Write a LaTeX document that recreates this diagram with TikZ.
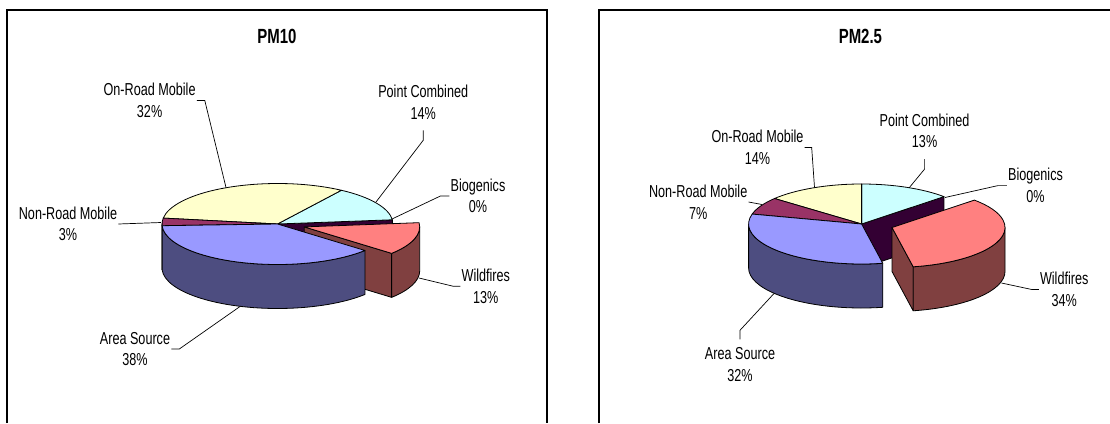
\documentclass[tikz,border=0pt]{standalone}
\usepackage{fontspec}
\setmainfont{Liberation Sans}[FakeStretch=0.73]
\usepackage{xcolor}
\usetikzlibrary{calc}

\definecolor{areatop}{HTML}{9999FF}
\definecolor{areaside}{HTML}{4D4D80}
\definecolor{nonroadtop}{HTML}{993366}
\definecolor{nonroadside}{HTML}{4D1A33}
\definecolor{onroadtop}{HTML}{FFFFCC}
\definecolor{pointtop}{HTML}{CCFFFF}
\definecolor{biogenic}{HTML}{330033}
\definecolor{firetop}{HTML}{FF8080}
\definecolor{fireside}{HTML}{804040}

\begin{document}
\begin{tikzpicture}[x=1pt,y=1pt,
    face/.style={fill=#1, draw=black, line width=0.8pt, line join=round},
    leader/.style={draw=black, line width=0.7pt},
    lbl/.style={font=\fontsize{17.3}{21.6}\selectfont, align=center, inner sep=1pt},
    ttl/.style={font=\bfseries\fontsize{20.5}{24}\selectfont, inner sep=1pt},
    frame/.style={draw=black, line width=1.2pt}]

    % Page and chart frames
    \fill[white] (0,0) rectangle (1110,-423);
    \useasboundingbox (0,0) rectangle (1110,-423);
    \draw[frame] (7,-423) -- (7,-10) -- (547,-10) -- (547,-423);
    \draw[frame] (599,-423) -- (599,-10) -- (1110,-10);

    % ---------------- PM10 ----------------
    \node[ttl] (t10) at (277,-36.7) {PM10};
    \begin{scope}[shift={(277.5,-224)}]
        \def\rx{115.5}\def\ry{40.5}\def\dep{44}
        % face left open by the pulled-out slice
        \path[face=biogenic] (0,0) -- (6:{\rx} and {\ry}) -- ++(0,-\dep) -- (0,-\dep) -- cycle;
        % pulled-out slice: Wildfires
        \begin{scope}[shift={(26.7,-2.9)}]
            \path[face=fireside] (0,0) -- (319.2:{\rx} and {\ry}) -- ++(0,-\dep) -- (0,-\dep) -- cycle;
            \path[face=fireside] (319.2:{\rx} and {\ry}) arc[start angle=319.2, end angle=360, x radius=\rx, y radius=\ry]
                -- ++(0,-\dep) arc[start angle=360, end angle=319.2, x radius=\rx, y radius=\ry] -- cycle;
            \path[face=firetop] (0,0) -- (319.2:{\rx} and {\ry}) arc[start angle=319.2, end angle=366, x radius=\rx, y radius=\ry] -- cycle;
        \end{scope}
        % front sides
        \foreach \col/\a/\b in {nonroadside/180/182.4, areaside/182.4/319.2} {
            \path[face=\col] (\a:{\rx} and {\ry}) arc[start angle=\a, end angle=\b, x radius=\rx, y radius=\ry]
                -- ++(0,-\dep) arc[start angle=\b, end angle=\a, x radius=\rx, y radius=\ry] -- cycle;
        }
        % top faces
        \foreach \col/\a/\b in {pointtop/6/56.4, onroadtop/56.4/171.6, nonroadtop/171.6/182.4, areatop/182.4/319.2} {
            \path[face=\col] (0,0) -- (\a:{\rx} and {\ry}) arc[start angle=\a, end angle=\b, x radius=\rx, y radius=\ry] -- cycle;
        }
    \end{scope}

    % labels and leaders
    \node[lbl] (onr10) at (149.6,-100.5) {On-Road Mobile\\32\%};
    \node[lbl] (pc10) at (423.2,-102) {Point Combined\\14\%};
    \node[lbl] (bio10) at (478,-196) {Biogenics\\0\%};
    \node[lbl] (nr10) at (68,-224) {Non-Road Mobile\\3\%};
    \node[lbl] (wf10) at (485.8,-286.3) {Wildfires\\13\%};
    \node[lbl] (as10) at (135,-349) {Area Source\\38\%};
    \coordinate (onr10tip) at (226,-187.5);
    \coordinate (pc10tip) at (376,-202);
    \coordinate (bio10tip) at (392,-219);
    \coordinate (nr10tip) at (161,-222.5);
    \coordinate (wf10tip) at (419,-278);
    \coordinate (as10tip) at (240,-306.5);
    \draw[leader] (onr10.east) -- ++(8,0) -- (onr10tip);
    \draw[leader] ([yshift=-10pt]pc10.south) -- ++(0,-10) -- (pc10tip);
    \draw[leader] (bio10.west) -- ++(-9,0) -- (bio10tip);
    \draw[leader] (nr10.east) -- (nr10tip);
    \draw[leader] (wf10.west) -- ++(-7,0) -- (wf10tip);
    \draw[leader] (as10.east) -- ++(8,0) -- (as10tip);

    % ---------------- PM2.5 ----------------
    \node[ttl] (t25) at (860.4,-36.7) {PM2.5};
    \begin{scope}[shift={(861.6,-224)}]
        \def\rx{113}\def\ry{40}\def\dep{44}
        % face left open by the pulled-out slice
        \path[face=biogenic] (0,0) -- (43.2:{\rx} and {\ry}) -- ++(0,-\dep) -- (0,-\dep) -- cycle;
        % pulled-out slice: Wildfires
        \begin{scope}[shift={(30.4,-3.5)}]
            \path[face=fireside] (0,0) -- (280.8:{\rx} and {\ry}) -- ++(0,-\dep) -- (0,-\dep) -- cycle;
            \path[face=fireside] (280.8:{\rx} and {\ry}) arc[start angle=280.8, end angle=360, x radius=\rx, y radius=\ry]
                -- ++(0,-\dep) arc[start angle=360, end angle=280.8, x radius=\rx, y radius=\ry] -- cycle;
            \path[face=firetop] (0,0) -- (280.8:{\rx} and {\ry}) arc[start angle=280.8, end angle=403.2, x radius=\rx, y radius=\ry] -- cycle;
        \end{scope}
        % front side
        \path[face=areaside] (180:{\rx} and {\ry}) arc[start angle=180, end angle=280.8, x radius=\rx, y radius=\ry]
            -- ++(0,-\dep) arc[start angle=280.8, end angle=180, x radius=\rx, y radius=\ry] -- cycle;
        % top faces
        \foreach \col/\a/\b in {pointtop/43.2/90, onroadtop/90/140.4, nonroadtop/140.4/165.6, areatop/165.6/280.8} {
            \path[face=\col] (0,0) -- (\a:{\rx} and {\ry}) arc[start angle=\a, end angle=\b, x radius=\rx, y radius=\ry] -- cycle;
        }
    \end{scope}

    % labels and leaders
    \node[lbl] (onr25) at (757.5,-147.5) {On-Road Mobile\\14\%};
    \node[lbl] (pc25) at (924.6,-130.7) {Point Combined\\13\%};
    \node[lbl] (bio25) at (1035.5,-185.6) {Biogenics\\0\%};
    \node[lbl] (nr25) at (698.2,-202) {Non-Road Mobile\\7\%};
    \node[lbl] (wf25) at (1064.2,-289.5) {Wildfires\\34\%};
    \node[lbl] (as25) at (740,-364.4) {Area Source\\32\%};
    \coordinate (onr25tip) at (814.5,-187.5);
    \coordinate (pc25tip) at (909,-188);
    \coordinate (bio25tip) at (945,-197.5);
    \coordinate (nr25tip) at (762,-204.5);
    \coordinate (wf25tip) at (1001.5,-283);
    \coordinate (as25tip) at (774,-293.5);
    \draw[leader] (onr25.east) -- ++(7,0) -- (onr25tip);
    \draw[leader] ([yshift=-10pt]pc25.south) -- ++(0,-10) -- (pc25tip);
    \draw[leader] (bio25.west) -- ++(-9,0) -- (bio25tip);
    \draw[leader] (nr25.east) -- (nr25tip);
    \draw[leader] (wf25.west) -- ++(-7,0) -- (wf25tip);
    \draw[leader] ([yshift=7pt]as25.north) -- ++(0,9) -- (as25tip);
\end{tikzpicture}
\end{document}
